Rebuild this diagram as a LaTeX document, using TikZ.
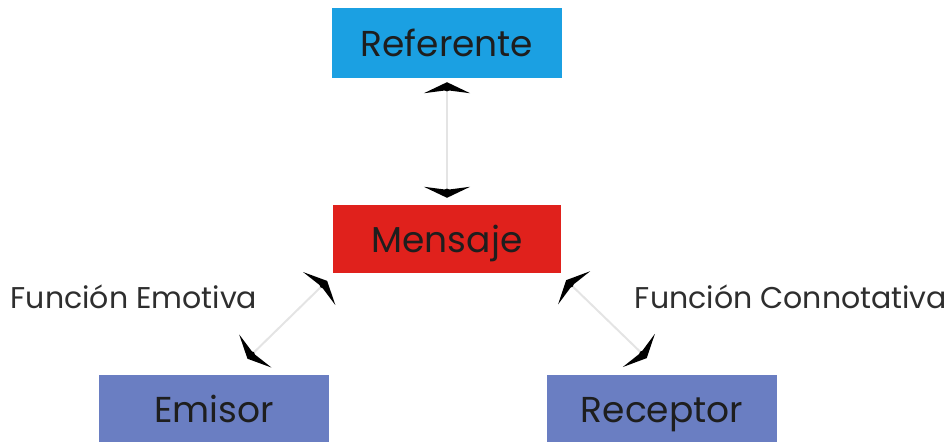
\documentclass[tikz,border=0pt]{standalone}
\usepackage{fontspec}
\setmainfont{Poppins}
\usetikzlibrary{arrows.meta,calc}
\definecolor{cref}{HTML}{1BA0E2}
\definecolor{cmen}{HTML}{E0211C}
\definecolor{cper}{HTML}{6A7EC2}
\definecolor{cline}{HTML}{E4E4E4}
\definecolor{ctxt}{HTML}{1E1E1E}
\definecolor{clab}{HTML}{2E2E2E}
\begin{document}
\begin{tikzpicture}[x=1pt,y=-1pt,
  box/.style={draw=none, minimum width=230pt, minimum height=70pt, inner sep=0pt,
    font=\fontsize{36}{40}\selectfont, text=ctxt, text height=26pt, text depth=0pt},
  lab/.style={inner sep=0pt, font=\fontsize{30}{34}\selectfont, text=clab},
  tipa/.tip={Stealth[length=11pt,width=46pt,inset=3pt,black]},
  conn/.style={draw=cline, line width=2pt, tipa-tipa},
  dot/.style={fill=black}]
\useasboundingbox (0,0) rectangle (946,442);
\clip (0,0) rectangle (946,442);
\node[box, fill=cref] (ref) at (447,43) {Referente};
\node[box, fill=cmen, minimum width=228pt, minimum height=68pt] (men) at (447,239) {Mensaje};
\node[box, fill=cper, minimum height=68pt] (emi) at (214,409) {Emisor};
\node[box, fill=cper, minimum height=68pt] (rec) at (662,409) {Receptor};
\node[lab] (le) at (134,297) {Función Emotiva};
\node[lab] (lc) at (791,297) {Función Connotativa};
% vertical
\draw[conn, shorten <=4pt, shorten >=7pt] (ref.south) -- (men.north);
\fill[dot] ($(ref.south)!10pt!(men.north)$) circle (3.2pt);
\fill[dot] ($(men.north)!13pt!(ref.south)$) circle (3.2pt);
% left
\coordinate (la) at ([xshift=-112pt]men.south);
\coordinate (lb) at ([xshift=17pt]emi.north);
\draw[conn, shorten <=11pt, shorten >=23pt] (la) -- (lb);
\fill[dot] ($(la)!17pt!(lb)$) circle (3.2pt);
\fill[dot] ($(lb)!29pt!(la)$) circle (3.2pt);
% right
\coordinate (ra) at ([xshift=112pt]men.south);
\coordinate (rb) at ([xshift=2pt]rec.north);
\draw[conn, shorten <=10pt, shorten >=24pt] (ra) -- (rb);
\fill[dot] ($(ra)!16pt!(rb)$) circle (3.2pt);
\fill[dot] ($(rb)!30pt!(ra)$) circle (3.2pt);
\end{tikzpicture}
\end{document}
